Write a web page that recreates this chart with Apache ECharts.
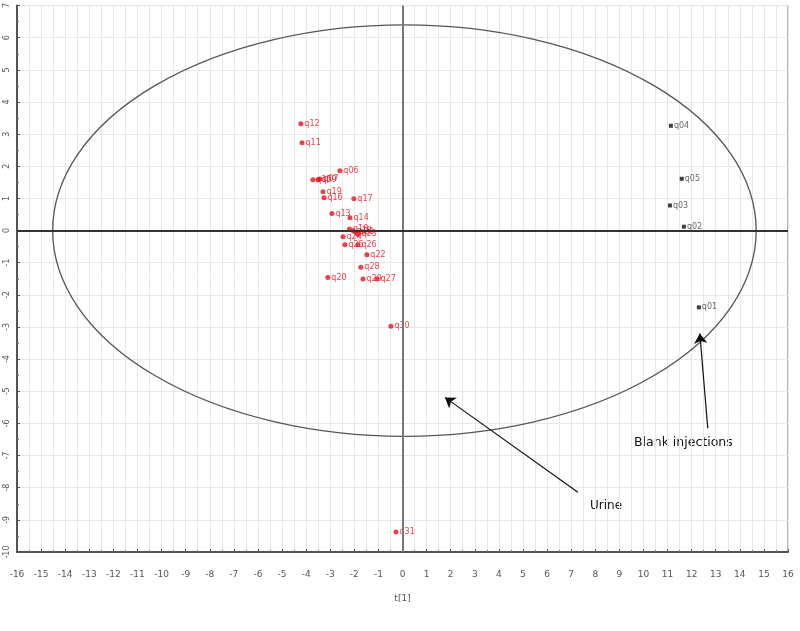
<!DOCTYPE html>
<html>
<head>
<meta charset="utf-8">
<script src="https://cdn.jsdelivr.net/npm/echarts@6/dist/echarts.min.js"></script>
<style>
  html, body { margin: 0; padding: 0; background: #fff; }
  #chart { width: 800px; height: 631px; }
</style>
</head>
<body>
<div id="chart"></div>
<script>
// urine samples (red)
var urineNames = ['q12', 'q11', 'q06', 'q15', 'q09', 'q07', 'q19', 'q16', 'q17', 'q13', 'q14', 'q10', 'q18', 'q21', 'q23',
  'q24', 'q25', 'q26', 'q22', 'q28', 'q29', 'q27', 'q20', 'q30', 'q31'];
var urineT1 = [-4.22, -4.17, -2.6, -3.72, -3.51, -3.43, -3.3, -3.26, -2.02, -2.93, -2.18, -2.2, -2.05, -1.95, -1.85,
  -2.47, -2.39, -1.85, -1.48, -1.73, -1.64, -1.06, -3.1, -0.48, -0.27];
var urineT2 = [3.32, 2.73, 1.86, 1.58, 1.58, 1.6, 1.21, 1.02, 0.99, 0.53, 0.4, 0.05, 0.0, -0.05, -0.12,
  -0.19, -0.44, -0.44, -0.75, -1.14, -1.51, -1.51, -1.46, -2.98, -9.38];

// blank injections (black)
var blankNames = ['q04', 'q05', 'q03', 'q02', 'q01'];
var blankT1 = [11.14, 11.59, 11.1, 11.68, 12.3];
var blankT2 = [3.26, 1.61, 0.78, 0.12, -2.39];

// Hotelling ellipse: centre and half axes
var ellipse = [0.08, 0, 14.6, 6.4];

// arrows [fromX, fromY, toX, toY]
var urineArrow = [7.28, -8.14, 1.76, -5.19];
var blankArrow = [12.67, -6.15, 12.34, -3.2];

function pts(names, xs, ys) {
  return names.map(function (n, i) { return { name: n, value: [xs[i], ys[i]] }; });
}

var myChart = echarts.init(document.getElementById('chart'));
var option = {
  animation: false,
  grid: {
    left: 17,
    right: 12,
    top: 4,
    bottom: 79,
    show: true,
    borderColor: '#666',
    borderWidth: 1
  },
  xAxis: {
    type: 'value',
    min: -16,
    max: 16,
    interval: 1,
    name: 't[1]',
    nameLocation: 'middle',
    nameGap: 42,
    nameTextStyle: { fontSize: 9, color: '#555', fontFamily: 'DejaVu Sans' },
    axisLine: { onZero: false, lineStyle: { color: '#555', width: 2 } },
    axisTick: { show: true, inside: true, length: 3, lineStyle: { color: '#555' } },
    minorTick: { show: true, splitNumber: 2, length: 2, lineStyle: { color: '#777' } },
    axisLabel: { fontSize: 9, color: '#555', margin: 18, fontFamily: 'DejaVu Sans' },
    splitLine: { show: true, lineStyle: { color: '#e8e8e8' } },
    minorSplitLine: { show: true, lineStyle: { color: '#e8e8e8' } }
  },
  yAxis: {
    type: 'value',
    min: -10,
    max: 7,
    interval: 1,
    axisLine: { onZero: false, lineStyle: { color: '#555', width: 2 } },
    axisTick: { show: true, inside: true, length: 3, lineStyle: { color: '#555' } },
    minorTick: { show: true, splitNumber: 2, length: 2, lineStyle: { color: '#777' } },
    axisLabel: { fontSize: 8, color: '#555', margin: 6, rotate: 90, fontFamily: 'DejaVu Sans' },
    splitLine: { show: true, lineStyle: { color: '#e8e8e8' } }
  },
  series: [
    {
      type: 'custom',
      silent: true,
      data: [ellipse],
      renderItem: function (params, api) {
        var c = api.coord([api.value(0), api.value(1)]);
        var s = api.size([api.value(2), api.value(3)]);
        var rx = s[0], ry = s[1];
        var d = 'M' + (c[0] - rx) + ' ' + c[1] +
          ' A' + rx + ' ' + ry + ' 0 1 0 ' + (c[0] + rx) + ' ' + c[1] +
          ' A' + rx + ' ' + ry + ' 0 1 0 ' + (c[0] - rx) + ' ' + c[1] + ' Z';
        return {
          type: 'path',
          shape: { pathData: d },
          style: { fill: 'none', stroke: '#555', lineWidth: 1.3 }
        };
      },
      markLine: {
        silent: true,
        symbol: 'none',
        label: { show: false },
        data: [
          { xAxis: 0, lineStyle: { color: '#777', width: 2, type: 'solid' } },
          { yAxis: 0, lineStyle: { color: '#333', width: 2, type: 'solid' } },
          [
            { coord: [urineArrow[0], urineArrow[1]], symbol: 'none' },
            { coord: [urineArrow[2], urineArrow[3]], symbol: 'arrow', symbolSize: 10 }
          ],
          [
            { coord: [blankArrow[0], blankArrow[1]], symbol: 'none' },
            { coord: [blankArrow[2], blankArrow[3]], symbol: 'arrow', symbolSize: 10 }
          ]
        ],
        lineStyle: { color: '#111', width: 1.2, type: 'solid' }
      }
    },
    {
      type: 'scatter',
      data: pts(urineNames, urineT1, urineT2),
      symbol: 'circle',
      symbolSize: 5,
      itemStyle: { color: '#e8101a' },
      label: {
        show: true,
        position: 'right',
        distance: 1,
        formatter: '{b}',
        fontSize: 8,
        color: '#e8101a',
        fontFamily: 'DejaVu Sans'
      }
    },
    {
      type: 'scatter',
      data: pts(blankNames, blankT1, blankT2),
      symbol: 'rect',
      symbolSize: 4,
      itemStyle: { color: '#111' },
      label: {
        show: true,
        position: 'right',
        distance: 1,
        formatter: '{b}',
        fontSize: 8,
        color: '#444',
        fontFamily: 'DejaVu Sans'
      }
    }
  ],
  graphic: [
    {
      type: 'text',
      left: 634,
      top: 436,
      style: { text: 'Blank injections', fontSize: 12.5, fill: '#111', fontFamily: 'DejaVu Sans' }
    },
    {
      type: 'text',
      left: 590,
      top: 500,
      style: { text: 'Urine', fontSize: 12, fill: '#111', fontFamily: 'DejaVu Sans' }
    }
  ]
};
myChart.setOption(option);
</script>
</body>
</html>
